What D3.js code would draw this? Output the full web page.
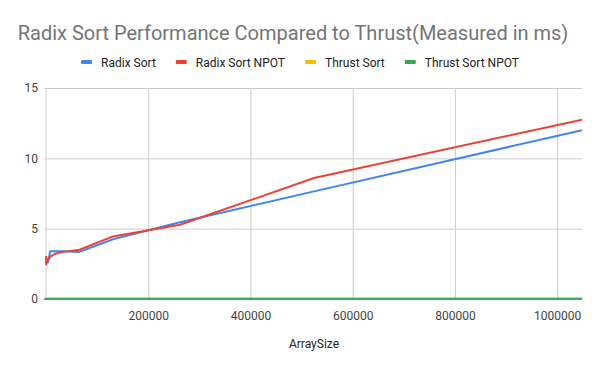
<!DOCTYPE html>
<html><head><meta charset="utf-8">
<script src="https://cdn.jsdelivr.net/npm/d3@7"></script>
<style>body{margin:0;background:#fff}svg{display:block;font-family:Roboto,Arial,sans-serif}</style>
</head><body><svg id="c" width="600" height="371"></svg>
<script>
const arraySizes = [256, 512, 1024, 2048, 4096, 8192, 16384, 32768, 65536, 131072, 262144, 524288, 1048576];
const radixSort     = [2.9, 2.8, 2.7, 2.6, 2.6, 3.4, 3.4, 3.4, 3.35, 4.25, 5.45, 7.65, 12.0];
const radixSortNPOT = [2.4, 3.0, 2.7, 2.6, 2.8, 3.0, 3.2, 3.35, 3.5, 4.45, 5.28, 8.6, 12.75];
const thrustSort     = [0.01, 0.01, 0.01, 0.01, 0.01, 0.01, 0.01, 0.01, 0.01, 0.01, 0.01, 0.02, 0.02];
const thrustSortNPOT = [0.01, 0.01, 0.01, 0.01, 0.01, 0.01, 0.01, 0.01, 0.01, 0.01, 0.01, 0.02, 0.02];
const seriesNames = ["Radix Sort", "Radix Sort NPOT", "Thrust Sort", "Thrust Sort NPOT"];
const seriesColors = ["#4285F4", "#EA4335", "#FBBC04", "#34A853"];
const xTicks = [200000, 400000, 600000, 800000, 1000000];
const yTicks = [0, 5, 10, 15];
const titleText = "Radix Sort Performance Compared to Thrust(Measured in ms)";
const xTitle = "ArraySize";

const allSeries = [radixSort, radixSortNPOT, thrustSort, thrustSortNPOT];
const svg = d3.select("#c");
const m = {l: 46, r: 582, t: 88, b: 299};
const x = d3.scaleLinear().domain([0, 1048576]).range([m.l, m.r]);
const y = d3.scaleLinear().domain([0, 15]).range([m.b, m.t]);

// title
svg.append("text").attr("x", 293).attr("y", 40).attr("text-anchor", "middle")
  .attr("font-size", 20).attr("fill", "#757575").text(titleText);

// grid
const gx = svg.append("g").attr("transform", `translate(0,${m.b})`)
  .call(d3.axisBottom(x).tickValues(xTicks).tickSize(-(m.b - m.t)).tickFormat(d3.format("d")));
gx.select(".domain").remove();
gx.selectAll("line").attr("stroke", "#cccccc");
gx.selectAll("text").attr("font-size", 12).attr("fill", "#444").attr("dy", "1.5em")
  .attr("font-family", "Roboto,Arial,sans-serif");
svg.append("line").attr("x1", m.l).attr("x2", m.l).attr("y1", m.t).attr("y2", m.b).attr("stroke", "#cccccc");

const gy = svg.append("g").attr("transform", `translate(${m.l},0)`)
  .call(d3.axisLeft(y).tickValues(yTicks).tickSize(-(m.r - m.l)).tickPadding(8));
gy.select(".domain").remove();
gy.selectAll("line").attr("stroke", "#cccccc").attr("x1", -2);
gy.selectAll("text").attr("font-size", 12).attr("fill", "#444")
  .attr("font-family", "Roboto,Arial,sans-serif");
svg.append("line").attr("x1", m.l - 2).attr("x2", m.r).attr("y1", y(0)).attr("y2", y(0)).attr("stroke", "#333");

// lines
const line = d3.line().x((d, i) => x(arraySizes[i])).y(d => y(d));
allSeries.forEach((s, k) => {
  svg.append("path").datum(s).attr("d", line).attr("fill", "none")
    .attr("stroke", seriesColors[k]).attr("stroke-width", 2).attr("stroke-linejoin", "round");
});

// x title
svg.append("text").attr("x", (m.l + m.r) / 2).attr("y", 348).attr("text-anchor", "middle")
  .attr("font-size", 12).attr("fill", "#222").text(xTitle);

// legend
const lg = svg.append("g");
let cx = 0;
seriesNames.forEach((n, k) => {
  const g = lg.append("g").attr("transform", `translate(${cx},0)`);
  g.append("rect").attr("x", 0).attr("y", -2).attr("width", 11).attr("height", 4).attr("rx", 1).attr("fill", seriesColors[k]);
  const t = g.append("text").attr("x", 20).attr("y", 4.5).attr("font-size", 12).attr("fill", "#222").text(n);
  const w = t.node().getComputedTextLength();
  cx += 20 + w + 20;
});
const totalW = cx - 20;
lg.attr("transform", `translate(${(600 - totalW) / 2},62)`);
</script></body></html>
